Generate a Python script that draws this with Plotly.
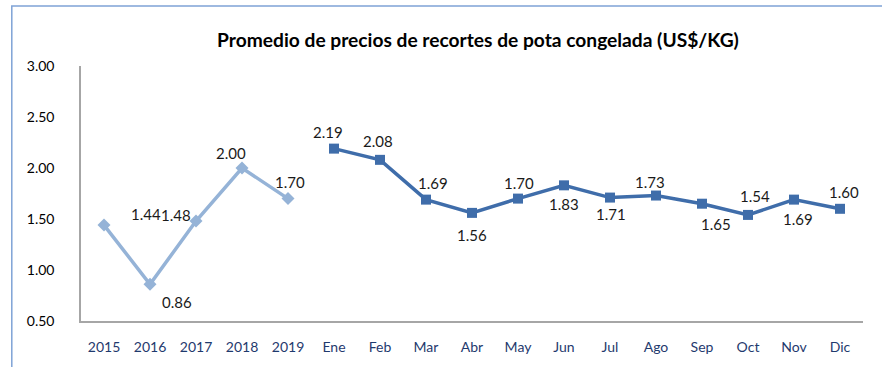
import plotly.graph_objects as go

# Annual averages and 2019 monthly prices (US$/KG)
years = ["2015", "2016", "2017", "2018", "2019"]
annual_prices = [1.44, 0.86, 1.48, 2.00, 1.70]
months = ["Ene", "Feb", "Mar", "Abr", "May", "Jun", "Jul", "Ago", "Sep", "Oct", "Nov", "Dic"]
monthly_prices = [2.19, 2.08, 1.69, 1.56, 1.70, 1.83, 1.71, 1.73, 1.65, 1.54, 1.69, 1.60]
y_ticks = [0.5, 1.0, 1.5, 2.0, 2.5, 3.0]

# label offsets (pixels) for each data label
annual_shift = [(42, 11), (27, -18), (-20, 6), (-11, 15), (2, 17)]
monthly_shift = [(-6, 17), (-2, 19), (7, 17), (0, -22), (1, 16), (0, -19),
                 (1, -16), (-6, 14), (14, -20), (7, 19), (4, -19), (4, 17)]

LIGHT = "#95B3D7"
DARK = "#3F6DAA"
FONT = "Lato"
categories = years + months

fig = go.Figure()
fig.add_trace(go.Scatter(
    x=years, y=annual_prices, mode="lines+markers",
    line=dict(color=LIGHT, width=3.5),
    marker=dict(symbol="diamond", size=10, color=LIGHT),
    showlegend=False, hoverinfo="x+y",
))
fig.add_trace(go.Scatter(
    x=months, y=monthly_prices, mode="lines+markers",
    line=dict(color=DARK, width=3.5),
    marker=dict(symbol="square", size=10, color=DARK),
    showlegend=False, hoverinfo="x+y",
))

# data labels; annotations on a category axis are placed by category index
for cats, vals, shifts in ((years, annual_prices, annual_shift),
                           (months, monthly_prices, monthly_shift)):
    for c, v, (dx, dy) in zip(cats, vals, shifts):
        fig.add_annotation(x=categories.index(c), y=v, text=f"{v:.2f}",
                           showarrow=False, xshift=dx, yshift=dy,
                           font=dict(family=FONT, size=15, color="#1a1a1a"))

# outer chart border
fig.add_shape(type="rect", xref="paper", yref="paper",
              x0=-0.0885, x1=1.2, y0=-0.5, y1=1.235,
              line=dict(color="#7FA3D6", width=1.5), layer="below")

fig.update_layout(
    width=882, height=367,
    margin=dict(l=81, r=19, t=66, b=44),
    paper_bgcolor="white", plot_bgcolor="white",
    font=dict(family=FONT, size=14, color="#000"),
    title=dict(text="<b>Promedio de precios de recortes de pota congelada (US$/KG)</b>",
               x=478 / 882, xanchor="center", xref="container",
               y=1 - 40 / 367, yanchor="middle", yref="container",
               font=dict(family=FONT, size=19.2, color="#000")),
    xaxis=dict(
        type="category", categoryorder="array", categoryarray=categories,
        range=[-0.5, 16.5], showgrid=False, zeroline=False,
        showline=True, linecolor="#A6A6A6", linewidth=1.5,
        ticks="", ticklabelstandoff=12,
        tickfont=dict(family=FONT, size=14, color="#1F3A6E"),
    ),
    yaxis=dict(
        range=[0.5, 3.0], tickvals=y_ticks, tickformat=".2f",
        showgrid=False, zeroline=False,
        showline=True, linecolor="#A6A6A6", linewidth=1.5,
        ticks="", ticklabelstandoff=22,
        tickfont=dict(family=FONT, size=14, color="#000"),
    ),
)

fig.write_html("out.html")
